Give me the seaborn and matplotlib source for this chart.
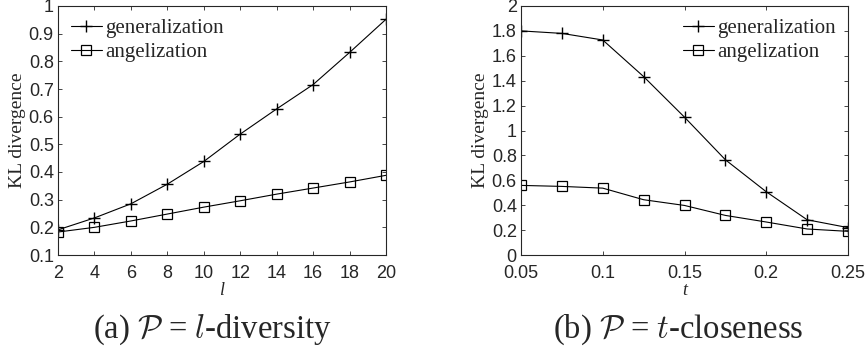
import numpy as np
import pandas as pd
import matplotlib
matplotlib.use("Agg")
import matplotlib.pyplot as plt
import seaborn as sns

# data
l_values = [2, 4, 6, 8, 10, 12, 14, 16, 18, 20]
l_general = [0.191, 0.234, 0.285, 0.356, 0.438, 0.537, 0.628, 0.716, 0.832, 0.952]
l_angel = [0.183, 0.200, 0.223, 0.248, 0.273, 0.296, 0.320, 0.342, 0.364, 0.388]

t_values = [0.05, 0.075, 0.1, 0.125, 0.15, 0.175, 0.2, 0.225, 0.25]
t_general = [1.80, 1.78, 1.727, 1.433, 1.107, 0.765, 0.508, 0.283, 0.22]
t_angel = [0.559, 0.551, 0.537, 0.444, 0.398, 0.318, 0.265, 0.209, 0.19]

series_names = ["generalization", "angelization"]
captions = [r"(a) $\mathcal{P}$ = $l$-diversity", r"(b) $\mathcal{P}$ = $t$-closeness"]

sns.set_style("ticks")
plt.rcParams["font.family"] = ["Liberation Sans", "DejaVu Sans"]
plt.rcParams["mathtext.fontset"] = "cm"

fig = plt.figure(figsize=(8.68, 3.49), dpi=100)
ax1 = fig.add_axes([58 / 868, 1 - 255 / 349, 328 / 868, 249 / 349])
ax2 = fig.add_axes([521 / 868, 1 - 255 / 349, 327 / 868, 249 / 349])

serif = "Liberation Serif"


def draw_panel(ax, x, gen, ang, xlabel, legend_loc):
    df = pd.DataFrame({
        "x": list(x) * 2,
        "y": list(gen) + list(ang),
        "method": [series_names[0]] * len(x) + [series_names[1]] * len(x),
    })
    sns.lineplot(data=df[df["method"] == series_names[0]], x="x", y="y",
                 ax=ax, color="black", lw=0.8, marker="+", markersize=9,
                 markeredgecolor="black", markeredgewidth=1.0,
                 label=series_names[0])
    sns.lineplot(data=df[df["method"] == series_names[1]], x="x", y="y",
                 ax=ax, color="black", lw=0.8, marker="s", markersize=7.5,
                 markerfacecolor="none", markeredgecolor="black",
                 markeredgewidth=0.9, label=series_names[1])
    ax.set_xlabel(xlabel, fontfamily=serif, fontstyle="italic", fontsize=13,
                  labelpad=0)
    ax.set_ylabel("KL divergence", fontfamily=serif, fontsize=14, labelpad=2)
    ax.tick_params(direction="in", top=True, right=True, length=3,
                   width=0.6, labelsize=13, pad=3)
    ax.tick_params(axis="x", pad=7)
    for s in ax.spines.values():
        s.set_linewidth(0.8)
        s.set_visible(True)
    leg = ax.legend(loc=legend_loc, frameon=False, prop={"family": serif, "size": 15},
                    handlelength=1.5, handletextpad=0.15, labelspacing=0.2,
                    borderaxespad=0.2)
    return leg


draw_panel(ax1, l_values, l_general, l_angel, "l", "upper left")
ax1.set_xlim(2, 20)
ax1.set_ylim(0.1, 1.0)
ax1.set_xticks(l_values)
ax1.set_yticks(np.round(np.arange(0.1, 1.01, 0.1), 1))
ax1.set_yticklabels(["0.1", "0.2", "0.3", "0.4", "0.5", "0.6", "0.7", "0.8", "0.9", "1"])

draw_panel(ax2, t_values, t_general, t_angel, "t", "upper right")
ax2.set_xlim(0.05, 0.25)
ax2.set_ylim(0, 2)
ax2.set_xticks([0.05, 0.1, 0.15, 0.2, 0.25])
ax2.set_xticklabels(["0.05", "0.1", "0.15", "0.2", "0.25"])
ax2.set_yticks(np.round(np.arange(0, 2.01, 0.2), 1))
ax2.set_yticklabels(["0", "0.2", "0.4", "0.6", "0.8", "1", "1.2", "1.4", "1.6", "1.8", "2"])

fig.text(212 / 868, 1 - 330 / 349, captions[0], ha="center", va="center",
         fontfamily=serif, fontsize=23.5)
fig.text(678 / 868, 1 - 330 / 349, captions[1], ha="center", va="center",
         fontfamily=serif, fontsize=23.5)

fig.savefig("out.png", dpi=100)
